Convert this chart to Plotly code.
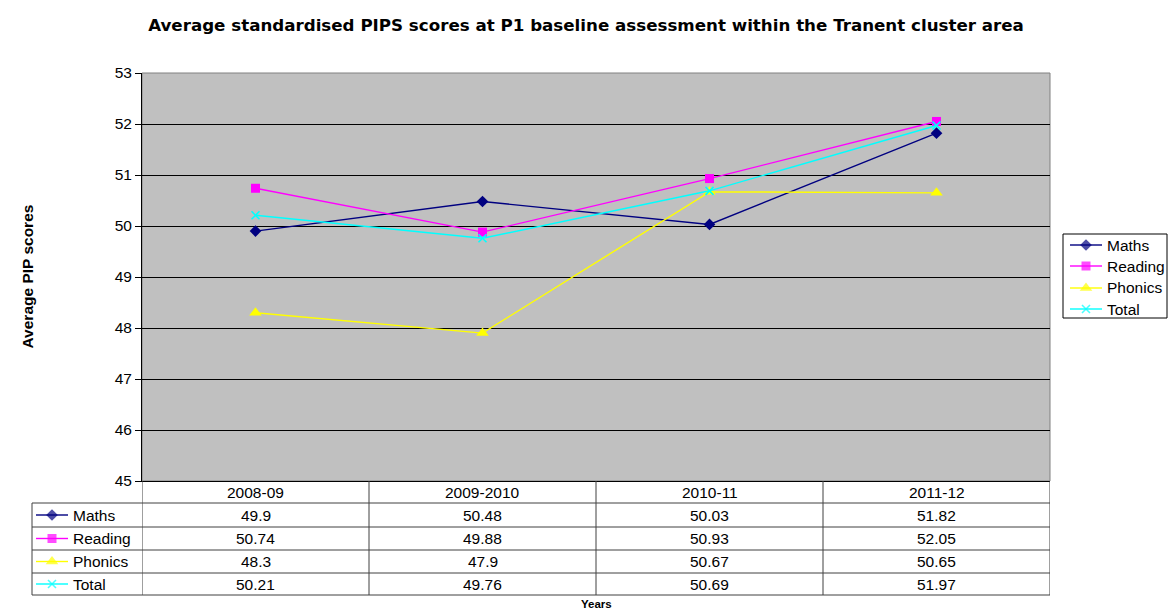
import plotly.graph_objects as go

# Dados do gráfico
years = ['2008-09', '2009-2010', '2010-11', '2011-12']
maths = [49.9, 50.48, 50.03, 51.82]
reading = [50.74, 49.88, 50.93, 52.05]
phonics = [48.3, 47.9, 50.67, 50.65]
total = [50.21, 49.76, 50.69, 51.97]

series_names = ['Maths', 'Reading', 'Phonics', 'Total']
series_values = [maths, reading, phonics, total]
series_colors = ['#000080', '#FF00FF', '#FFFF00', '#00FFFF']
series_symbols = ['diamond', 'square', 'triangle-up', 'x-thin']
series_sizes = [9, 9, 11, 8]

W, H = 1172, 611
FONT = 'Liberation Sans, Arial, sans-serif'
TITLE_FONT = 'DejaVu Sans, Liberation Sans, sans-serif'
FS = 15.5

# Geometria (pixels)
PX0, PX1, PY0, PY1 = 142, 1050, 73, 481
TAB_LEFT = 32
ROW_EDGES = [481, 503, 527, 550, 573, 595]
LEG_BOX = (1063, 1167, 234, 318)
LEG_ROWS = [245, 266, 288, 309]


def px(x):
    return x / W


def py(y):
    return (H - y) / H


def marker_line(sym, col):
    return dict(color=col, width=1.6 if sym == 'x-thin' else 0)


fig = go.Figure()

# Séries principais
for name, vals, col, sym, sz in zip(series_names, series_values, series_colors,
                                    series_symbols, series_sizes):
    fig.add_trace(go.Scatter(
        x=years, y=vals, name=name, mode='lines+markers',
        line=dict(color=col, width=1.4),
        marker=dict(symbol=sym, size=sz, color=col, line=marker_line(sym, col)),
        showlegend=False, xaxis='x', yaxis='y'))

# Chaves da tabela e da legenda (eixo auxiliar em pixels)
keys = []
for i, name in enumerate(series_names):
    yc = (ROW_EDGES[i + 1] + ROW_EDGES[i + 2]) / 2
    keys.append((name, i, 36, 68, 73, yc))
    keys.append((name, i, 1070, 1102, 1107, LEG_ROWS[i]))

for name, i, k0, k1, tx, yc in keys:
    col, sym, sz = series_colors[i], series_symbols[i], series_sizes[i]
    fig.add_trace(go.Scatter(
        x=[k0, (k0 + k1) / 2, k1], y=[yc, yc, yc], mode='lines+markers',
        line=dict(color=col, width=1.4),
        marker=dict(symbol=sym, size=[0, sz, 0], color=col, line=marker_line(sym, col)),
        showlegend=False, hoverinfo='skip', xaxis='x2', yaxis='y2'))
    fig.add_annotation(x=px(tx), y=py(yc), xref='paper', yref='paper',
                       text=name, showarrow=False, xanchor='left', yanchor='middle',
                       xshift=-2, font=dict(size=FS, color='black', family=FONT))

shapes = []
# Fundo cinza da área do gráfico
shapes.append(dict(type='rect', xref='x domain', yref='y domain', x0=0, x1=1, y0=0, y1=1,
                   fillcolor='#C0C0C0', line=dict(color='#808080', width=1), layer='below'))

# Caixa da legenda
shapes.append(dict(type='rect', xref='paper', yref='paper',
                   x0=px(LEG_BOX[0]), x1=px(LEG_BOX[1]), y0=py(LEG_BOX[3]), y1=py(LEG_BOX[2]),
                   fillcolor='white', line=dict(color='black', width=1), layer='below'))

# Linhas da tabela
line_style = dict(color='#404040', width=1)
for y in ROW_EDGES[1:]:
    shapes.append(dict(type='line', xref='paper', yref='paper',
                       x0=px(TAB_LEFT), x1=px(PX1), y0=py(y), y1=py(y), line=line_style))
shapes.append(dict(type='line', xref='paper', yref='paper',
                   x0=px(TAB_LEFT), x1=px(TAB_LEFT), y0=py(ROW_EDGES[1]), y1=py(ROW_EDGES[-1]),
                   line=line_style))
for i in range(len(years) + 1):
    shapes.append(dict(type='line', xref='x', yref='paper',
                       x0=i - 0.5, x1=i - 0.5, y0=py(ROW_EDGES[0]), y1=py(ROW_EDGES[-1]),
                       line=line_style))

# Textos da tabela
for j, yr in enumerate(years):
    yc = (ROW_EDGES[0] + ROW_EDGES[1]) / 2
    fig.add_annotation(x=yr, y=py(yc), xref='x', yref='paper', text=yr, showarrow=False,
                       font=dict(size=FS, color='black', family=FONT), yanchor='middle')
    for i, vals in enumerate(series_values):
        yc = (ROW_EDGES[i + 1] + ROW_EDGES[i + 2]) / 2
        fig.add_annotation(x=yr, y=py(yc), xref='x', yref='paper', text=str(vals[j]),
                           showarrow=False, yanchor='middle',
                           font=dict(size=FS, color='black', family=FONT))

# Títulos
fig.add_annotation(x=px(16), y=py((PY0 + PY1) / 2), xref='paper', yref='paper',
                   text='<b>Average PIP scores</b>', textangle=-90, showarrow=False,
                   font=dict(size=FS, color='black', family=FONT))
fig.add_annotation(x=px((PX0 + PX1) / 2), y=py(596), xref='paper', yref='paper',
                   text='<b>Years</b>', showarrow=False, yanchor='top',
                   font=dict(size=11.5, color='black', family=FONT))

fig.update_layout(
    width=W, height=H,
    margin=dict(l=0, r=0, t=0, b=0, autoexpand=False),
    paper_bgcolor='white', plot_bgcolor='rgba(0,0,0,0)',
    font=dict(family=FONT, color='black'),
    title=dict(text='<b>Average standardised PIPS scores at P1 baseline assessment within the Tranent cluster area</b>',
               x=px(586), xanchor='center', y=py(25), yanchor='middle', yref='paper',
               font=dict(size=16.7, color='black', family=TITLE_FONT)),
    xaxis=dict(domain=[px(PX0), px(PX1)], range=[-0.5, 3.5], type='category',
               showticklabels=False, showgrid=False, zeroline=False,
               showline=True, linecolor='black', linewidth=1, ticks=''),
    yaxis=dict(domain=[py(PY1), py(PY0)], range=[45, 53], dtick=1,
               showgrid=True, gridcolor='black', gridwidth=1, zeroline=False,
               showline=True, linecolor='black', linewidth=1,
               ticks='outside', ticklen=6, tickcolor='black',
               tickfont=dict(size=FS, color='black', family=FONT)),
    xaxis2=dict(domain=[0, 1], range=[0, W], visible=False, anchor='y2'),
    yaxis2=dict(domain=[0, 1], range=[H, 0], visible=False, anchor='x2'),
    shapes=shapes,
    showlegend=False,
)

fig.write_html('out.html', config={'displayModeBar': False},
               post_script="document.body.style.margin='0px';")
